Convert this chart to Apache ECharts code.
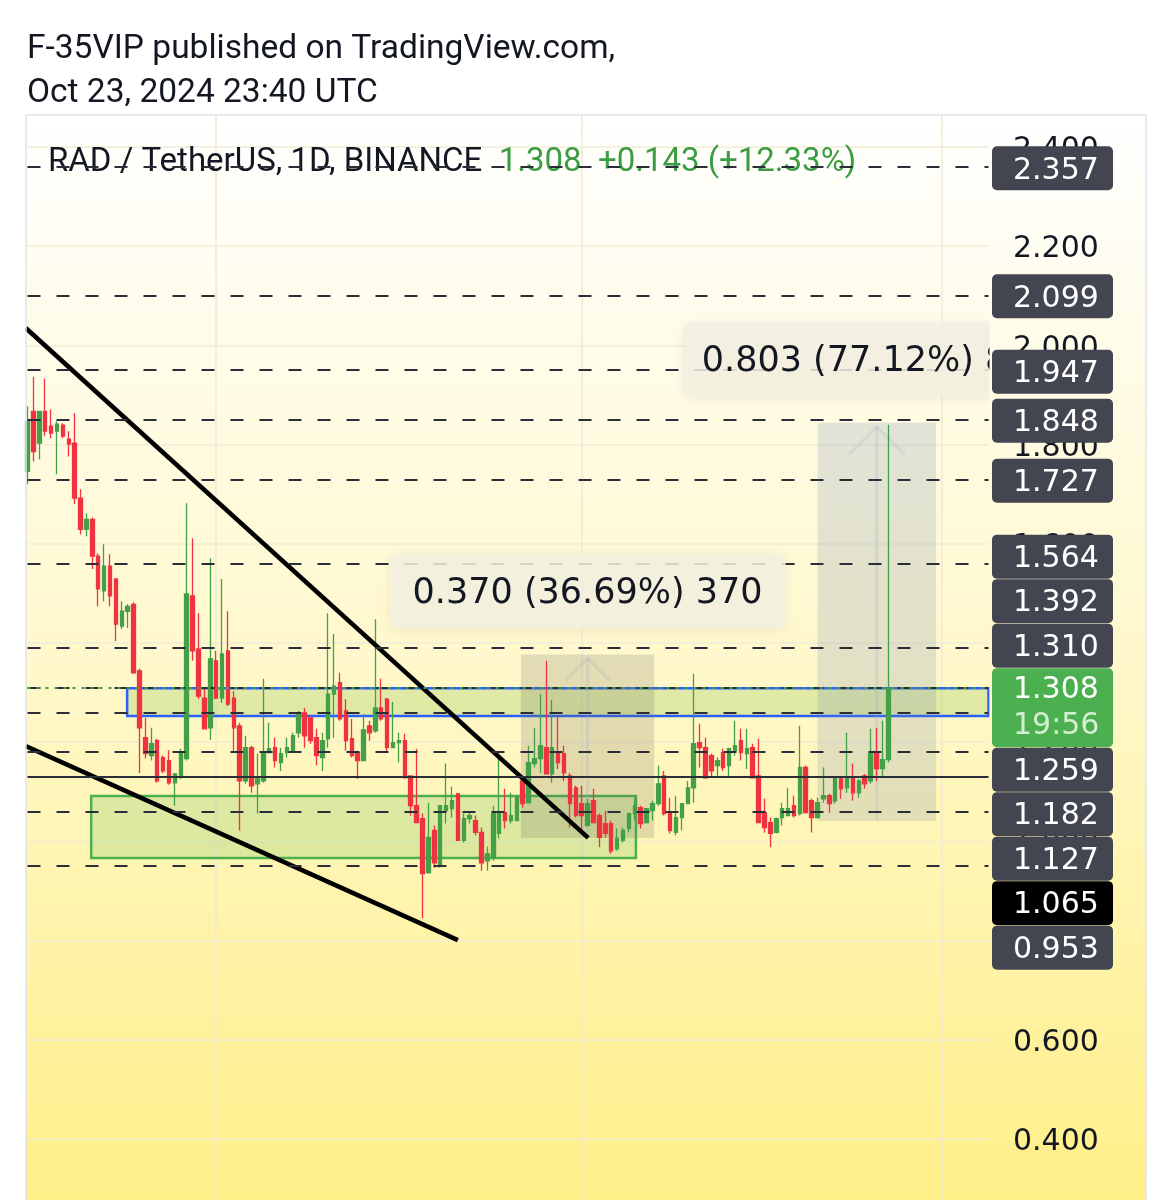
<!DOCTYPE html>
<html>
<head>
<meta charset="utf-8">
<script src="https://cdn.jsdelivr.net/npm/echarts@6/dist/echarts.min.js"></script>
<style>
html, body { margin: 0; padding: 0; background: #fff; }
#main { width: 1171px; height: 1200px; }
</style>
</head>
<body>
<div id="main"></div>
<script>
// RAD / USDT daily candles, [open, close, low, high]
let candles = [
  [1.746,1.847,1.720,1.877],[1.867,1.786,1.766,1.937],[1.803,1.867,1.770,1.867],[1.867,1.827,1.817,1.933],
  [1.837,1.823,1.813,1.871],[1.827,1.841,1.740,1.847],[1.839,1.817,1.813,1.843],[1.811,1.801,1.776,1.827],
  [1.803,1.692,1.680,1.863],[1.692,1.629,1.619,1.710],[1.629,1.649,1.615,1.661],[1.649,1.575,1.549,1.653],
  [1.575,1.509,1.474,1.581],[1.505,1.555,1.484,1.599],[1.555,1.495,1.474,1.579],[1.529,1.438,1.404,1.529],
  [1.434,1.464,1.428,1.484],[1.464,1.474,1.430,1.478],[1.478,1.340,1.338,1.482],[1.344,1.229,1.138,1.348],
  [1.209,1.177,1.167,1.249],[1.173,1.197,1.163,1.229],[1.203,1.122,1.118,1.207],[1.169,1.142,1.138,1.173],
  [1.163,1.118,1.114,1.184],[1.118,1.136,1.072,1.138],[1.132,1.177,1.126,1.187],[1.167,1.499,1.163,1.682],
  [1.495,1.384,1.364,1.611],[1.388,1.293,1.287,1.460],[1.289,1.227,1.227,1.310],[1.229,1.368,1.205,1.571],
  [1.364,1.289,1.287,1.384],[1.289,1.378,1.279,1.529],[1.384,1.277,1.273,1.464],[1.289,1.229,1.183,1.303],
  [1.233,1.122,1.022,1.239],[1.122,1.189,1.116,1.213],[1.189,1.112,1.098,1.193],[1.116,1.126,1.056,1.177],
  [1.122,1.179,1.118,1.328],[1.179,1.187,1.177,1.239],[1.189,1.163,1.149,1.209],[1.159,1.177,1.142,1.189],
  [1.179,1.189,1.169,1.209],[1.183,1.213,1.179,1.219],[1.219,1.259,1.209,1.263],[1.259,1.213,1.189,1.269],
  [1.249,1.203,1.197,1.253],[1.209,1.173,1.153,1.227],[1.169,1.203,1.142,1.219],[1.207,1.297,1.189,1.460],
  [1.297,1.313,1.209,1.418],[1.320,1.247,1.243,1.340],[1.263,1.203,1.183,1.287],[1.207,1.173,1.169,1.247],
  [1.179,1.163,1.126,1.183],[1.163,1.225,1.163,1.257],[1.233,1.219,1.203,1.243],[1.223,1.269,1.219,1.448],
  [1.269,1.247,1.243,1.328],[1.287,1.189,1.179,1.289],[1.189,1.199,1.189,1.281],[1.199,1.203,1.159,1.219],
  [1.203,1.128,1.128,1.217],[1.132,1.072,1.052,1.132],[1.072,1.038,1.038,1.187],[1.046,0.935,0.845,1.056],
  [0.937,1.008,0.935,1.078],[1.022,0.957,0.947,1.032],[0.951,1.072,0.947,1.072],[1.062,1.072,1.036,1.157],
  [1.066,1.082,1.048,1.110],[1.096,1.002,1.002,1.098],[1.002,1.046,0.998,1.056],[1.046,1.052,1.036,1.058],
  [1.042,1.018,1.012,1.052],[1.018,0.957,0.941,1.028],[0.961,0.975,0.941,0.989],[0.966,1.056,0.961,1.072],
  [1.016,1.058,1.006,1.177],[1.058,1.042,1.026,1.106],[1.042,1.052,1.036,1.098],[1.042,1.088,1.042,1.092],
  [1.122,1.076,1.068,1.122],[1.078,1.159,1.076,1.193],[1.157,1.167,1.149,1.229],[1.167,1.193,1.138,1.297],
  [1.189,1.136,1.136,1.364],[1.136,1.189,1.118,1.285],[1.177,1.159,1.146,1.253],[1.177,1.138,1.122,1.193],
  [1.132,1.076,1.028,1.138],[1.108,1.052,1.048,1.112],[1.076,1.052,1.018,1.112],[1.032,1.076,1.032,1.086],
  [1.082,1.038,1.036,1.106],[1.052,1.008,0.988,1.056],[1.036,1.016,1.008,1.062],[1.036,0.981,0.975,1.042],
  [0.985,1.006,0.981,1.026],[1.002,1.022,0.998,1.028],[1.026,1.056,1.018,1.058],[1.056,1.072,1.042,1.088],
  [1.068,1.036,1.026,1.072],[1.038,1.066,1.036,1.066],[1.062,1.076,1.042,1.082],[1.076,1.116,1.072,1.153],
  [1.132,1.056,1.052,1.142],[1.056,1.022,1.016,1.088],[1.018,1.048,1.012,1.092],[1.048,1.076,1.022,1.076],
  [1.076,1.108,1.076,1.122],[1.108,1.197,1.078,1.338],[1.199,1.189,1.149,1.237],[1.189,1.128,1.126,1.209],
  [1.173,1.142,1.128,1.177],[1.153,1.163,1.132,1.169],[1.179,1.149,1.142,1.187],[1.153,1.187,1.132,1.189],
  [1.183,1.193,1.173,1.243],[1.203,1.179,1.163,1.227],[1.177,1.187,1.146,1.227],[1.189,1.128,1.128,1.197],
  [1.132,1.038,1.038,1.207],[1.058,1.028,1.018,1.086],[1.038,1.016,0.988,1.048],[1.018,1.046,1.016,1.048],
  [1.048,1.066,1.032,1.078],[1.052,1.066,1.052,1.108],[1.072,1.052,1.048,1.092],[1.056,1.149,1.052,1.233],
  [1.149,1.058,1.056,1.153],[1.082,1.048,1.018,1.086],[1.048,1.078,1.046,1.088],[1.086,1.092,1.078,1.149],
  [1.092,1.076,1.058,1.096],[1.082,1.128,1.076,1.132],[1.126,1.106,1.086,1.132],[1.108,1.128,1.098,1.219],
  [1.128,1.098,1.082,1.157],[1.098,1.122,1.088,1.126],[1.132,1.116,1.106,1.136],[1.122,1.177,1.116,1.227],
  [1.177,1.147,1.122,1.229],[1.147,1.165,1.132,1.243],[1.165,1.308,1.159,1.840]
];
let firstDay = '2024-05-30';
let emptyDaysRight = 17;
let monthLines = ['2024-07-01', '2024-09-01', '2024-11-01'];

// horizontal levels drawn on the chart (price scale labels)
let levels = [2.357, 2.099, 1.947, 1.848, 1.727, 1.564, 1.392, 1.310, 1.259, 1.182, 1.127, 1.065, 0.953];
let solidLevels = [1.127];
let blackLabelLevels = [1.065];
let lastPrice = 1.308;
let lastChange = '+0.143 (+12.33%)';
let countdown = '19:56';
let symbolTitle = 'RAD / TetherUS, 1D, BINANCE';
let headerLines = ['F-35VIP published on TradingView.com,', 'Oct 23, 2024 23:40 UTC'];

// drawings, in [bar index, price]
let trendLines = [
  [[-0.3, 2.035], [95.1, 1.007]],
  [[-0.3, 1.192], [73.0, 0.801]]
];
let blueZone = [16.9, 163, 1.253, 1.309];
let greenZone = [10.8, 103.2, 0.9665, 1.0915];
let measures = [
  { from: 83.7, to: 106.3, low: 1.007, high: 1.377, text: '0.370 (36.69%) 370', color: 'rgba(112,112,96,0.2)' },
  { from: 134.0, to: 154.1, low: 1.041, high: 1.844, text: '0.803 (77.12%) 803', color: 'rgba(110,135,175,0.2)' }
];

let up = '#43A047';
let down = '#EF3340';

let dates = [];
let t0 = Date.parse(firstDay + 'T00:00:00Z');
for (let i = 0; i < candles.length + emptyDaysRight; i++) {
  dates.push(new Date(t0 + i * 86400000).toISOString().slice(0, 10));
}
let lastIndex = dates.length - 1;

let myChart = echarts.init(document.getElementById('main'));

let bg = {
  type: 'linear', x: 0, y: 115, x2: 0, y2: 1200, global: true,
  colorStops: [
    { offset: 0, color: '#FFFFFF' },
    { offset: 0.5, color: '#FFF8CC' },
    { offset: 1, color: '#FFEF88' }
  ]
};

let levelLines = levels.map(function (v) {
  return {
    yAxis: v,
    lineStyle: {
      color: '#2a2e39',
      width: 2,
      type: solidLevels.indexOf(v) >= 0 ? 'solid' : [13, 16]
    }
  };
});
levelLines.push({ yAxis: lastPrice, lineStyle: { color: up, width: 2, type: [3, 6] } });

let trendSeries = trendLines.map(function (pts) {
  return {
    type: 'line', xAxisIndex: 1, yAxisIndex: 0, z: 4,
    data: pts, symbol: 'none', silent: true,
    lineStyle: { color: '#000', width: 4.5 }
  };
});

let zoneSeries = {
  type: 'line', xAxisIndex: 1, yAxisIndex: 0, z: 1,
  data: [[0, -1]], symbol: 'none', silent: true,
  lineStyle: { width: 0 },
  markArea: {
    silent: true,
    data: [
      [{ xAxis: blueZone[0], yAxis: blueZone[3], itemStyle: { color: 'rgba(139,195,74,0.27)', borderColor: '#2962FF', borderWidth: 2.5 } },
       { xAxis: blueZone[1], yAxis: blueZone[2] }],
      [{ xAxis: greenZone[0], yAxis: greenZone[3], itemStyle: { color: 'rgba(102,187,80,0.22)', borderColor: '#4CAF50', borderWidth: 2.5 } },
       { xAxis: greenZone[1], yAxis: greenZone[2] }]
    ].concat(measures.map(function (m) {
      return [{ xAxis: m.from, yAxis: m.high, itemStyle: { color: m.color, borderWidth: 0 } },
              { xAxis: m.to, yAxis: m.low }];
    }))
  }
};

let option = {
  animation: false,
  grid: { left: 27.5, right: 182.5, top: 47.8, bottom: -38.2, outerBoundsMode: 'none' },
  xAxis: [
    {
      type: 'category', data: dates, boundaryGap: false,
      axisLine: { show: false }, axisTick: { show: false }, axisLabel: { show: false },
      splitLine: {
        show: true,
        interval: function (idx, val) { return monthLines.indexOf(val) >= 0; },
        lineStyle: { color: '#EFEAD3', width: 1.5 }
      }
    },
    {
      type: 'value', min: 0, max: lastIndex, show: false
    }
  ],
  yAxis: [
    {
      type: 'value', min: 0.2, max: 2.6, interval: 0.2, position: 'right',
      axisLine: { show: false }, axisTick: { show: false }, axisLabel: { show: false },
      splitLine: { lineStyle: { color: '#F1ECD6', width: 1.5 } }
    },
    {
      type: 'value', min: 0.2, max: 2.6, interval: 0.2, position: 'right', z: 9,
      axisLine: { show: false }, axisTick: { show: false }, splitLine: { show: false },
      axisLabel: {
        margin: 24.5,
        formatter: function (v) { return '{p|' + v.toFixed(3) + '}'; },
        rich: {
          p: { color: '#131722', fontSize: 30, fontFamily: 'DejaVu Sans', padding: [7, 0, 0, 0] }
        }
      }
    }
  ],
  series: [
    zoneSeries,
    {
      type: 'candlestick', z: 2,
      data: candles,
      barWidth: 4,
      itemStyle: {
        color: up, color0: down, borderColor: up, borderColor0: down, borderWidth: 1.3
      },
      markLine: {
        silent: true, symbol: ['none', 'none'], label: { show: false },
        data: levelLines
      }
    }
  ].concat(trendSeries)
};

myChart.setOption(option);

// overlay drawings: measure labels, arrows, price scale boxes, header
let px = function (x, y) { return myChart.convertToPixel({ xAxisIndex: 1, yAxisIndex: 0 }, [x, y]); };
let yOf = function (v) { return myChart.convertToPixel({ yAxisIndex: 0 }, v); };
let numFont = 'DejaVu Sans';
let textNudge = 2.5;

let graphics = [];
graphics.push({ type: 'rect', z: -10, silent: true, shape: { x: 26, y: 115, width: 1120, height: 1100 }, style: { fill: bg } });

measures.forEach(function (m, i) {
  let a = px(m.from, m.high);
  let b = px(m.to, m.low);
  let cx = (a[0] + b[0]) / 2;
  // faint arrow inside the range box
  let arm = i === 0 ? 22 : 28;
  let arrowStyle = { stroke: 'rgba(160,170,190,0.22)', lineWidth: 3, fill: null };
  graphics.push({ type: 'polyline', z: 1, silent: true,
    shape: { points: [[cx, b[1]], [cx, a[1] + 4]] }, style: arrowStyle });
  graphics.push({ type: 'polyline', z: 1, silent: true,
    shape: { points: [[cx - arm, a[1] + arm + 4], [cx, a[1] + 4], [cx + arm, a[1] + arm + 4]] }, style: arrowStyle });
  // label
  let w = i === 0 ? 396 : 387, h = 75;
  let top = a[1] - 26 - h;
  graphics.push({ type: 'rect', z: 5, silent: true,
    shape: { x: cx - w / 2, y: top, width: w, height: h, r: 10 },
    style: { fill: 'rgba(243,241,226,0.85)', shadowBlur: 8, shadowColor: 'rgba(0,0,0,0.08)', shadowOffsetY: 2 } });
  graphics.push({ type: 'text', z: 6, silent: true, x: cx, y: top + h / 2 + textNudge,
    style: { text: m.text, fill: '#131722', fontSize: 35, fontFamily: numFont, align: 'center', verticalAlign: 'middle' } });
});

// price scale column covers anything spilling past the plot
graphics.push({ type: 'rect', z: 8, silent: true, shape: { x: 989.5, y: 115, width: 156.5, height: 1100 }, style: { fill: bg } });

// price boxes, stacked around the last price box like TradingView does
let boxH = 44, gap = 0.5, boxX = 992, boxW = 121, textX = 1013;
let curY = yOf(lastPrice);
let curTop = curY - 20.5, curBottom = curY + 58.5;
let boxes = [];
let edge = curTop;
levels.filter(function (v) { return v > lastPrice; }).sort(function (a, b) { return a - b; }).forEach(function (v) {
  let c = Math.min(yOf(v), edge - gap - boxH / 2);
  boxes.push({ v: v, c: c });
  edge = c - boxH / 2;
});
edge = curBottom;
levels.filter(function (v) { return v < lastPrice; }).sort(function (a, b) { return b - a; }).forEach(function (v) {
  let c = Math.max(yOf(v), edge + gap + boxH / 2);
  boxes.push({ v: v, c: c });
  edge = c + boxH / 2;
});
boxes.forEach(function (bx) {
  graphics.push({ type: 'rect', z: 10, silent: true,
    shape: { x: boxX, y: bx.c - boxH / 2, width: boxW, height: boxH, r: 5 },
    style: { fill: blackLabelLevels.indexOf(bx.v) >= 0 ? '#000000' : '#434651' } });
  graphics.push({ type: 'text', z: 11, silent: true, x: textX, y: bx.c + textNudge,
    style: { text: bx.v.toFixed(3), fill: '#ffffff', fontSize: 30, fontFamily: numFont, verticalAlign: 'middle' } });
});
graphics.push({ type: 'rect', z: 10, silent: true,
  shape: { x: boxX, y: curTop, width: boxW, height: curBottom - curTop, r: 5 },
  style: { fill: '#4CAF50' } });
graphics.push({ type: 'text', z: 11, silent: true, x: textX, y: curY + 1.5,
  style: { text: lastPrice.toFixed(3), fill: '#ffffff', fontSize: 30, fontFamily: numFont, verticalAlign: 'middle' } });
graphics.push({ type: 'text', z: 11, silent: true, x: textX, y: curY + 38,
  style: { text: countdown, fill: '#D4EFD2', fontSize: 30, fontFamily: numFont, verticalAlign: 'middle' } });

// symbol legend (the dashed 2.357 line runs through it)
graphics.push({ type: 'text', z: 1, silent: true, x: 48, y: 163,
  style: {
    text: symbolTitle + '  {g|' + lastPrice.toFixed(3) + '  ' + lastChange + '}',
    fill: '#131722', fontSize: 33, fontFamily: 'Roboto', verticalAlign: 'middle',
    rich: { g: { fill: '#3C9C41', fontSize: 33, fontFamily: 'Roboto' } }
  } });

// header
graphics.push({ type: 'rect', z: 20, silent: true, shape: { x: 0, y: 0, width: 1171, height: 114.5 }, style: { fill: '#ffffff' } });
graphics.push({ type: 'text', z: 21, silent: true, x: 27, y: 50,
  style: { text: headerLines[0], fill: '#131722', fontSize: 33.5, fontFamily: 'Roboto', verticalAlign: 'middle' } });
graphics.push({ type: 'text', z: 21, silent: true, x: 27, y: 94,
  style: { text: headerLines[1], fill: '#131722', fontSize: 33.5, fontFamily: 'Roboto', verticalAlign: 'middle' } });
graphics.push({ type: 'rect', z: 21, silent: true, shape: { x: 26, y: 115, width: 1120, height: 1100 },
  style: { fill: null, stroke: '#E0E3EB', lineWidth: 1.5 } });

myChart.setOption({ graphic: graphics });
</script>
</body>
</html>
